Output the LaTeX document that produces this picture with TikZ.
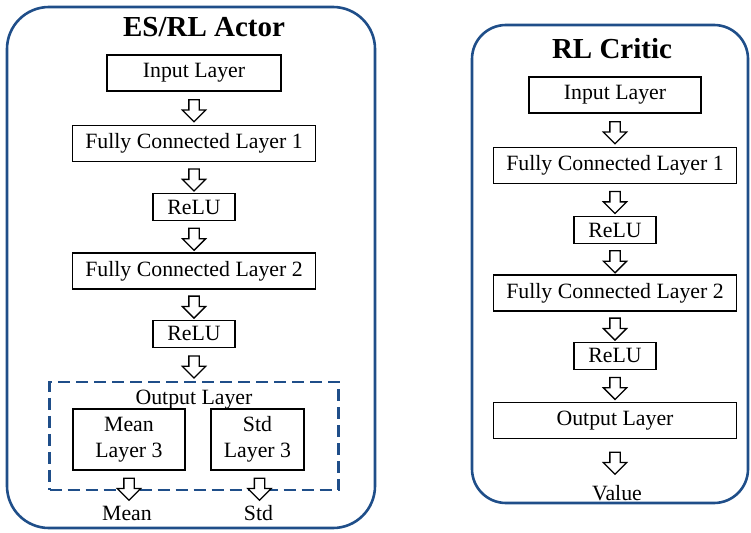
\documentclass[tikz,border=0pt]{standalone}
\usepackage{fontspec}
\setmainfont{Liberation Serif}
\usetikzlibrary{
    shapes.arrows,
    positioning,
    calc
}
\definecolor{Bline}{RGB}{31, 78, 137}
\tikzset{
    layerbox/.style={
        rectangle, draw=black, line width=1.3pt, fill=white,
        minimum height=36pt, inner sep=0pt, align=center,
        font=\fontsize{21.8}{26}\selectfont
    },
    relubox/.style={layerbox, minimum height=27pt, minimum width=82pt},
    panel/.style={rectangle, draw=Bline, line width=2.6pt, inner sep=0pt},
    outgroup/.style={
        rectangle, draw=Bline, line width=2.2pt,
        dash pattern=on 12pt off 6pt, inner sep=0pt
    },
    downarr/.style={
        single arrow, draw=black, line width=1.3pt, fill=white, rotate=-90,
        minimum height=22pt, minimum width=22pt,
        single arrow head extend=6.5pt, inner sep=4.5pt
    },
    titlelbl/.style={font=\fontsize{29}{34}\selectfont\bfseries, anchor=base, inner sep=0pt},
    plainlbl/.style={font=\fontsize{21.8}{26}\selectfont, anchor=base, inner sep=0pt},
}

\begin{document}
\begin{tikzpicture}[x=1pt, y=1pt]
    \useasboundingbox (0,0) rectangle (751,-532);

    % ── panels ─────────────────────────────────────────
    \node [panel, rounded corners=42pt, minimum width=368pt, minimum height=521pt]
        (actor) at (191,-267.5) {};
    \node [panel, rounded corners=34pt, minimum width=276pt, minimum height=478pt]
        (critic) at (610,-264) {};

    \node [titlelbl] (atitle) at (204,-37) {ES/RL Actor};
    \node [titlelbl] (ctitle) at (612,-59) {RL Critic};

    % ── actor column ───────────────────────────────────
    \node [layerbox, minimum width=174pt] (ain) at (194,-73) {Input Layer};
    \node [layerbox, minimum width=243pt, below=33pt of ain] (afc1) {Fully Connected Layer 1};
    \node [relubox, below=31pt of afc1] (arelu1) {ReLU};
    \node [layerbox, minimum width=243pt, below=31pt of arelu1] (afc2) {Fully Connected Layer 2};
    \node [relubox, below=30pt of afc2] (arelu2) {ReLU};

    \node [outgroup, minimum width=289pt, minimum height=108pt, below=33pt of arelu2]
        (aout) {};
    \node [plainlbl] (aoutlbl) at ($(aout.north)+(0,-24)$) {Output Layer};
    \node [layerbox, minimum width=112pt, minimum height=61pt]
        (amean) at (129,-439.5) {Mean\\Layer 3};
    \node [layerbox, minimum width=93pt, minimum height=61pt]
        (astd) at (257.5,-439.5) {Std\\Layer 3};

    % ── critic column ──────────────────────────────────
    \node [layerbox, minimum width=172pt] (cin) at (615,-95) {Input Layer};
    \node [layerbox, minimum width=243pt, below=33pt of cin] (cfc1) {Fully Connected Layer 1};
    \node [relubox, below=32pt of cfc1] (crelu1) {ReLU};
    \node [layerbox, minimum width=243pt, below=30pt of crelu1] (cfc2) {Fully Connected Layer 2};
    \node [relubox, below=30pt of cfc2] (crelu2) {ReLU};
    \node [layerbox, minimum width=243pt, below=32pt of crelu2] (cout) {Output Layer};

    % ── block arrows ───────────────────────────────────
    \foreach \u/\v/\n in {ain/afc1/aa1, afc1/arelu1/aa2, arelu1/afc2/aa3,
                          afc2/arelu2/aa4, arelu2/aout/aa5,
                          cin/cfc1/ca1, cfc1/crelu1/ca2, crelu1/cfc2/ca3,
                          cfc2/crelu2/ca4, crelu2/cout/ca5}
        \node [downarr] (\n) at ($(\u.south)!0.5!(\v.north)$) {};

    \node [downarr] (amarr) at ($(amean.south)+(0,-16)$) {};
    \node [downarr] (asarr) at ($(astd.south)+(2,-16)$) {};
    \node [downarr] (cvarr) at ($(cout.south)+(0,-21.5)$) {};

    % ── outputs ────────────────────────────────────────
    \node [plainlbl] (ameanlbl) at ($(amean.south)+(-2,-50)$) {Mean};
    \node [plainlbl] (astdlbl) at ($(astd.south)+(1,-50)$) {Std};
    \node [plainlbl] (cvallbl) at ($(cout.south)+(2,-61)$) {Value};

\end{tikzpicture}
\end{document}
